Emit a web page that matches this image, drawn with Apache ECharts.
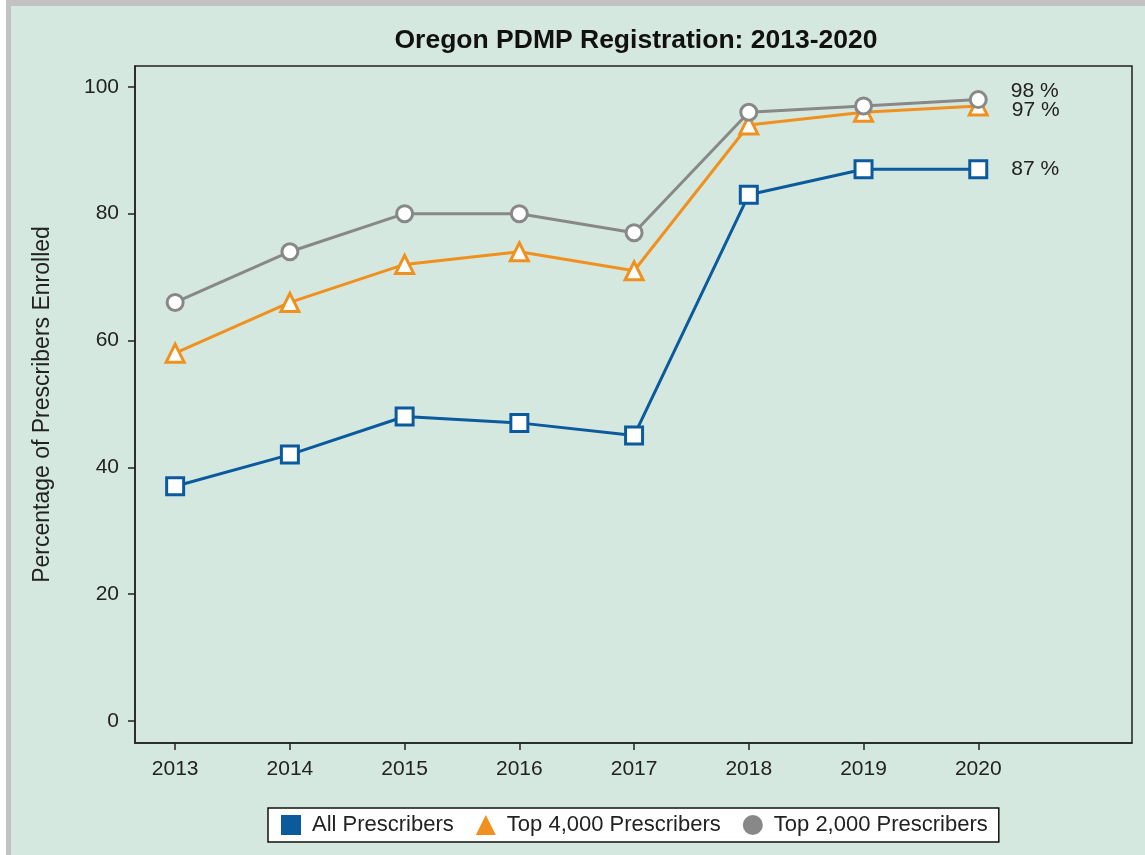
<!DOCTYPE html>
<html>
<head>
<meta charset="utf-8">
<script src="https://cdn.jsdelivr.net/npm/echarts@6/dist/echarts.min.js"></script>
<style>
  body { margin: 0; background: #fff; }
  #map { position: absolute; left: 0; top: 0; width: 1145px; height: 855px; }
  .edge { position: absolute; background: #c2c2c2; pointer-events: none; }
  .blank { position: absolute; background: #fff; pointer-events: none; }
</style>
</head>
<body>
<div id="map"></div>
<div class="blank" style="left:0;top:0;width:6px;height:855px"></div>
<div class="edge" style="left:6px;top:0;width:5px;height:855px"></div>
<div class="edge" style="left:6px;top:0;width:1139px;height:6px"></div>
<script>
var years = [2013, 2014, 2015, 2016, 2017, 2018, 2019, 2020];
var allPrescribers = [37, 42, 48, 47, 45, 83, 87, 87];
var top4000 = [58, 66, 72, 74, 71, 94, 96, 97];
var top2000 = [66, 74, 80, 80, 77, 96, 97, 98];
var yTicks = [0, 20, 40, 60, 80, 100];

var blue = '#0b5a9e';
var orange = '#f0901e';
var gray = '#888888';
var font = '"Liberation Sans", Arial, sans-serif';

// points as [year, value]; the last point gets its "% " label
function points(values, labelOffset) {
    return values.map(function (v, i) {
        var item = { value: [years[i], v] };
        if (i === values.length - 1) {
            item.label = {
                show: true,
                position: 'right',
                distance: 23,
                offset: [0, labelOffset],
                formatter: function (p) { return p.value[1] + ' %'; },
                color: '#222',
                fontSize: 21,
                fontFamily: font
            };
        }
        return item;
    });
}

function line(name, values, color, symbol, size, labelOffset) {
    return {
        name: name,
        type: 'line',
        data: points(values, labelOffset),
        symbol: symbol,
        symbolSize: size,
        showAllSymbol: true,
        lineStyle: { color: color, width: 3 },
        itemStyle: { color: '#fff', borderColor: color, borderWidth: 3 },
        emphasis: { disabled: true },
        z: 2
    };
}

var map = echarts.init(document.getElementById("map"));
var option = {
    backgroundColor: '#d5e8df',
    animation: false,
    title: {
        text: 'Oregon PDMP Registration: 2013-2020',
        left: 631,
        top: 22,
        textAlign: 'center',
        textStyle: { fontFamily: font, fontSize: 26.5, fontWeight: 'bold', color: '#111' }
    },
    legend: {
        left: 268,
        top: 808,
        padding: [6, 11, 6, 13],
        itemGap: 22,
        itemWidth: 20,
        itemHeight: 20,
        backgroundColor: '#fff',
        borderColor: '#111',
        borderWidth: 1.5,
        borderRadius: 0,
        selectedMode: false,
        textStyle: { fontFamily: font, fontSize: 22, color: '#222', padding: [0, 0, 0, 6] },
        data: [
            { name: 'All Prescribers', icon: 'rect', itemStyle: { color: blue, borderWidth: 0 } },
            { name: 'Top 4,000 Prescribers', icon: 'triangle', itemStyle: { color: orange, borderWidth: 0 } },
            { name: 'Top 2,000 Prescribers', icon: 'circle', itemStyle: { color: gray, borderWidth: 0 } }
        ]
    },
    grid: {
        left: 135,
        top: 66,
        right: 13,
        bottom: 112,
        show: true,
        borderColor: '#222',
        borderWidth: 1.5,
        backgroundColor: 'transparent'
    },
    xAxis: {
        type: 'value',
        min: 2012.65,
        max: 2021.34,
        axisLine: { show: true, onZero: false, lineStyle: { color: '#222', width: 1.5 } },
        axisTick: { show: true, inside: false, length: 7, customValues: years, lineStyle: { color: '#222', width: 1.5 } },
        axisLabel: {
            customValues: years,
            margin: 16,
            formatter: function (v) { return String(v); },
            color: '#222',
            fontSize: 21,
            fontFamily: font
        },
        splitLine: { show: false }
    },
    yAxis: {
        type: 'value',
        min: -3.5,
        max: 103.3,
        name: 'Percentage of Prescribers Enrolled',
        nameLocation: 'middle',
        nameGap: 81,
        nameTextStyle: { fontFamily: font, fontSize: 23, color: '#222' },
        axisLine: { show: true, onZero: false, lineStyle: { color: '#222', width: 1.5 } },
        axisTick: { show: true, inside: false, length: 7, customValues: yTicks, lineStyle: { color: '#222', width: 1.5 } },
        axisLabel: {
            customValues: yTicks,
            margin: 16,
            color: '#222',
            fontSize: 21,
            fontFamily: font
        },
        splitLine: { show: false }
    },
    series: [
        line('All Prescribers', allPrescribers, blue, 'rect', 17, 0),
        line('Top 4,000 Prescribers', top4000, orange, 'triangle', 18, 4),
        line('Top 2,000 Prescribers', top2000, gray, 'circle', 16, -8)
    ]
};
map.setOption(option);
</script>
</body>
</html>
